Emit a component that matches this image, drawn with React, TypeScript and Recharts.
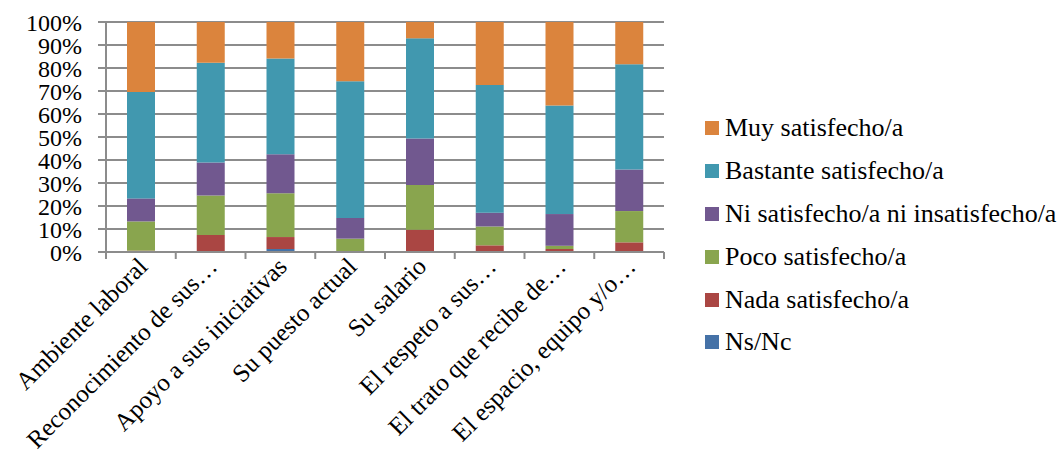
import { BarChart, Bar, XAxis, YAxis, CartesianGrid } from 'recharts';

const categories = [
  'Ambiente laboral',
  'Reconocimiento de sus…',
  'Apoyo a sus iniciativas',
  'Su puesto actual',
  'Su salario',
  'El respeto a sus…',
  'El trato que recibe de…',
  'El espacio, equipo y/o…',
];

const nsNc = [0, 0, 1.3, 0, 0, 0, 0, 0];
const nada = [0.6, 7.4, 5.2, 0, 9.7, 2.9, 1.3, 4.2];
const poco = [12.7, 17.2, 19.0, 5.8, 19.4, 8.2, 1.4, 13.6];
const ni = [10.0, 14.3, 17.0, 9.0, 20.2, 6.0, 13.8, 18.1];
const bastante = [46.3, 43.4, 41.6, 59.4, 43.6, 55.5, 47.2, 45.7];
const muy = [30.4, 17.7, 15.9, 25.8, 7.1, 27.4, 36.3, 18.4];

const yTicks = [0, 10, 20, 30, 40, 50, 60, 70, 80, 90, 100];

const SERIES = [
  { key: 'nsNc', name: 'Ns/Nc', color: '#4572A7', values: nsNc },
  { key: 'nada', name: 'Nada satisfecho/a', color: '#AA4643', values: nada },
  { key: 'poco', name: 'Poco satisfecho/a', color: '#89A54E', values: poco },
  { key: 'ni', name: 'Ni satisfecho/a ni insatisfecho/a', color: '#71588F', values: ni },
  { key: 'bastante', name: 'Bastante satisfecho/a', color: '#4198AF', values: bastante },
  { key: 'muy', name: 'Muy satisfecho/a', color: '#DB843D', values: muy },
];

const data = categories.map((name, i) => {
  const row: Record<string, string | number> = { name };
  SERIES.forEach((s) => {
    row[s.key] = s.values[i];
  });
  return row;
});

const FONT = '"Liberation Serif", "Times New Roman", serif';
const GRID = '#8c8c8c';
const W = 1060;
const H = 455;
const MARGIN = { top: 22, right: 396, left: 6, bottom: 0 };
const Y_W = 100;
const X_H = 203;
const STEP = (W - MARGIN.left - MARGIN.right - Y_W) / categories.length;

// Excel-style: tick marks between categories, rotated labels ending under each bar
function XTick(props: any) {
  const { x, y, payload, index } = props;
  const tx = x + 8;
  const ty = y + 16;
  return (
    <g>
      <line x1={x - STEP / 2} x2={x - STEP / 2} y1={y} y2={y + 7} stroke={GRID} strokeWidth={2} />
      {index === categories.length - 1 && (
        <line x1={x + STEP / 2} x2={x + STEP / 2} y1={y} y2={y + 7} stroke={GRID} strokeWidth={2} />
      )}
      <text
        x={tx}
        y={ty}
        transform={`rotate(-45, ${tx}, ${ty})`}
        textAnchor="end"
        fontFamily={FONT}
        fontSize={25}
        fill="#000"
      >
        {payload.value}
      </text>
    </g>
  );
}

function LegendBox() {
  return (
    <div
      style={{
        position: 'absolute',
        left: 705,
        top: 107,
        width: 355,
        fontFamily: FONT,
        fontSize: 26,
        color: '#000',
      }}
    >
      {[...SERIES].reverse().map((s) => (
        <div key={s.key} style={{ display: 'flex', alignItems: 'center', height: 42.8 }}>
          <span
            style={{ width: 14, height: 14, background: s.color, marginRight: 6, flex: 'none' }}
          />
          <span style={{ whiteSpace: 'nowrap' }}>{s.name}</span>
        </div>
      ))}
    </div>
  );
}

export default function App() {
  return (
    <div style={{ position: 'absolute', left: 0, top: 0, width: W, height: H, background: '#fff' }}>
      <BarChart width={W} height={H} data={data} margin={MARGIN}>
        <CartesianGrid vertical={false} stroke={GRID} strokeWidth={2} />
        <XAxis
          dataKey="name"
          interval={0}
          height={X_H}
          tick={<XTick />}
          tickLine={false}
          tickSize={0}
          tickMargin={0}
          axisLine={{ stroke: GRID, strokeWidth: 2 }}
        />
        <YAxis
          width={Y_W}
          domain={[0, 100]}
          ticks={yTicks}
          interval={0}
          tickFormatter={(v: number) => `${v}%`}
          tick={{ fontFamily: FONT, fontSize: 24, fill: '#000' }}
          tickSize={8}
          tickMargin={16}
          tickLine={{ stroke: GRID, strokeWidth: 2 }}
          axisLine={{ stroke: GRID, strokeWidth: 2 }}
          allowDataOverflow
        />
        {SERIES.map((s) => (
          <Bar
            key={s.key}
            dataKey={s.key}
            name={s.name}
            stackId="a"
            fill={s.color}
            barSize={28}
            isAnimationActive={false}
          />
        ))}
      </BarChart>
      <LegendBox />
    </div>
  );
}
